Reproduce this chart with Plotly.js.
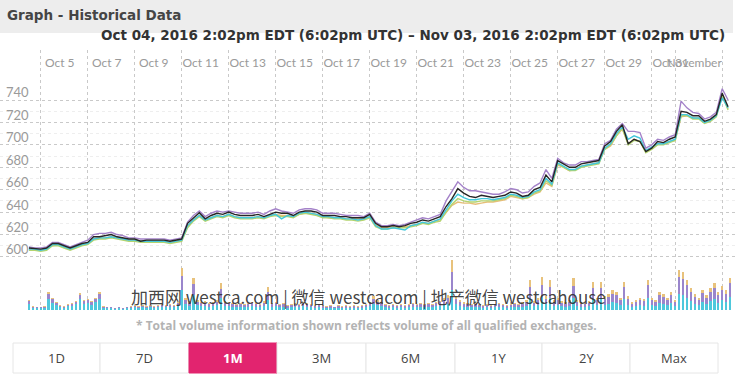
<!DOCTYPE html>
<html>
<head>
<meta charset="utf-8">
<script src="https://cdn.plot.ly/plotly-3.0.1.min.js"></script>
<style>
html,body{margin:0;padding:0;background:#fff;}
#chart{width:737px;height:379px;}
</style>
</head>
<body>
<div id="chart"></div>
<script>
// ---------- DATA ----------
const priceStartUTC = [2016, 9, 4, 12];   // Oct 4 2016 12:00, 6-hour samples
const priceStepHours = 6;
const volStartUTC = [2016, 9, 4, 12];     // 4-hour volume samples
const volStepHours = 4;

const seriesNames = ["Exchange A", "Exchange B", "Exchange C", "Exchange D", "Exchange E"];

const priceTan = [607,606,606,607,610,611,609,607,609,611,
612,616,617,617,618,617,616,615,615,614,
614,614,614,614,613,614,615,627,633,637,
633,635,637,636,638,636,635,635,635,636,
635,637,638,637,637,636,638,639,639,638,
636,635,635,635,634,634,634,634,636,629,
626,626,627,626,627,628,629,630,630,632,
633,640,646,649,648,648,647,648,649,649,
650,651,654,653,652,653,656,658,666,663,
682,680,677,678,681,682,683,684,696,699,
708,714,701,705,703,694,697,701,701,703,
704,725,726,724,724,720,722,726,745,732];

const priceGreen = [606,606,605,606,610,610,608,606,608,610,
611,615,616,616,617,616,615,614,614,613,
613,613,613,613,612,613,614,626,632,636,
632,634,636,635,637,635,634,634,634,635,
634,636,637,636,636,635,638,639,638,637,
635,635,634,634,633,633,632,633,635,627,
625,625,626,626,626,627,628,630,629,631,
632,640,647,652,650,649,649,650,650,650,
651,652,655,654,652,653,657,659,668,664,
683,680,677,677,680,681,682,683,696,700,
708,715,700,704,703,693,696,700,700,702,
704,726,726,723,723,719,721,725,744,731];

const priceCyan = [607,607,606,607,611,611,609,607,609,611,
612,616,617,617,618,617,616,615,615,614,
614,614,614,614,613,614,615,628,633,637,
633,635,637,636,638,636,635,635,635,636,
635,637,638,634,637,636,639,640,639,638,
636,636,635,635,634,634,633,634,636,628,
625,625,626,625,624,628,629,631,630,632,
634,642,650,656,653,651,651,652,652,651,
652,653,656,655,653,654,658,660,670,665,
684,681,678,678,681,682,683,684,697,701,
710,716,705,708,706,695,698,701,701,703,
705,727,727,724,724,720,722,726,742,733];

const pricePurple = [609,608,608,609,613,613,611,609,611,613,
615,620,621,621,622,620,619,617,617,616,
616,616,616,616,615,616,617,631,637,641,
636,639,641,640,641,640,639,639,639,640,
638,641,643,641,640,639,642,643,643,642,
639,639,639,638,637,637,637,636,639,631,
628,628,629,628,629,631,633,635,634,636,
638,650,658,667,662,659,659,658,657,656,
656,658,661,660,657,658,663,666,678,670,
688,684,682,682,685,685,686,687,701,704,
714,719,712,712,711,697,700,705,704,707,
709,739,733,729,728,723,725,729,750,740];

const priceBlack = [608,607.5,607,608,612,612,610,608,610,612,
613,618,618,619,620,618,617,616,616,614,
615,615,615,615,614,615,616,630,635,639.5,
634,637,639,638,640,638,637,637,637,638,
636,638,640,639,639,637,640,641,641,640,
637,637,637,636,636,635,635,635,638,630,
627,627,628,627,628,630,631,633,632,634,
636,645,652,661,657,654,653,655,654,653,
654,655,658,657,654,655,660,662,673,667,
686,683,680,680,683,684,685,686,699,703,
712,718,701,705,703,694,697,703,702,705,
707,730,729,726,726,721,723,727,746,734];

const volCyan = [6,2,2,2,2,11,7,5,3,2,
4,4,6,11,6,7,5,8,11,2,
2,2,1,2,1,2,2,3,2,3,
2,3,2,3,3,3,3,3,4,20,
6,4,15,5,4,4,3,4,5,12,
4,4,3,3,3,3,3,4,3,3,
4,10,3,4,3,3,2,3,3,3,
4,3,3,2,3,2,2,2,2,2,
2,2,2,2,2,2,3,4,6,5,
4,3,2,3,2,3,2,3,3,3,
3,3,3,3,4,4,5,6,20,6,
4,3,3,3,3,3,2,3,2,3,
3,3,2,3,3,3,3,4,12,4,
5,13,6,12,4,5,4,3,4,12,
4,3,3,4,11,5,11,5,6,8,
7,5,11,5,3,4,5,4,12,5,
4,7,6,5,7,4,16,15,12,9,
6,5,8,6,9,11,7,10,8,13];

const volPurple = [3,1,1,1,1,5,4,2,1,1,
1,2,2,4,3,3,3,3,5,1,
1,1,1,1,1,1,1,1,1,1,
1,1,1,1,2,1,2,1,3,14,
4,3,11,3,3,3,3,3,3,9,
3,3,3,2,3,2,3,3,3,2,
3,8,3,3,2,3,2,2,3,2,
3,3,2,2,2,2,1,2,1,2,
1,2,1,2,1,2,2,3,5,3,
3,2,2,2,2,2,2,2,3,2,
3,2,3,2,3,4,5,6,18,5,
4,3,3,2,3,2,2,2,2,2,
3,2,2,2,3,2,3,4,11,3,
5,12,5,11,4,5,3,3,4,12,
4,3,3,3,11,5,11,6,7,8,
8,5,12,6,3,4,5,5,13,5,
4,8,7,5,8,4,17,16,13,9,
7,5,9,6,9,11,8,10,8,14];

const volTan = [1,1,0,0,1,2,1,1,1,1,
1,1,1,2,1,1,1,1,2,1,
0,0,0,0,0,0,1,1,1,1,
1,1,1,1,1,1,1,1,1,8,
2,2,6,2,1,2,1,1,2,6,
2,1,1,1,1,1,1,1,1,1,
2,5,1,1,1,1,1,1,1,1,
1,1,1,1,1,1,1,1,0,1,
1,1,1,1,1,1,1,1,3,2,
1,1,1,1,1,1,1,1,1,1,
1,1,1,1,1,1,2,3,12,3,
2,2,1,1,1,1,1,1,1,1,
1,1,1,1,1,1,2,2,7,2,
2,8,3,7,2,2,2,2,2,8,
2,2,1,2,6,2,6,3,3,4,
3,2,5,3,2,2,2,2,5,2,
2,3,3,2,3,2,7,7,5,4,
3,2,3,3,4,5,3,4,4,5];

const yTickVals = [600,620,640,660,680,700,720,740];
const yTickText = ["600","620","640","660","680","700","720","740"];
const yMinorVals = [610,630,650,670,690,710,730];

const xTickDates = ["2016-10-05","2016-10-07","2016-10-09","2016-10-11","2016-10-13","2016-10-15",
  "2016-10-17","2016-10-19","2016-10-21","2016-10-23","2016-10-25","2016-10-27","2016-10-29",
  "2016-10-31","2016-11-01","2016-11-03"];
const xTickText = ["Oct 5","Oct 7","Oct 9","Oct 11","Oct 13","Oct 15","Oct 17","Oct 19","Oct 21",
  "Oct 23","Oct 25","Oct 27","Oct 29","Oct 31","November","Nov 3"];

const headerTitle = "Graph - Historical Data";
const rangeText = "Oct 04, 2016 2:02pm EDT (6:02pm UTC) – Nov 03, 2016 2:02pm EDT (6:02pm UTC)";
const footnote = "* Total volume information shown reflects volume of all qualified exchanges.";
const watermark = "加西网 westca.com | 微信 westcacom | 地产微信 westcahouse";
const buttonLabels = ["1D","7D","1M","3M","6M","1Y","2Y","Max"];
const activeButton = "1M";

// ---------- BUILD ----------
function timeSeries(start, stepH, n) {
  const t0 = Date.UTC(start[0], start[1], start[2], start[3]);
  const out = [];
  for (let i = 0; i < n; i++) out.push(t0 + i * stepH * 3600000);
  return out;
}
const px = timeSeries(priceStartUTC, priceStepHours, priceBlack.length);
const vx = timeSeries(volStartUTC, volStepHours, volCyan.length);

const W = 737, H = 379, M = {l: 0, r: 0, t: 50, b: 69};
const plotH = H - M.t - M.b;
const fx = p => (p - M.l) / (W - M.l - M.r);
const fy = p => 1 - (p - M.t) / plotH;

const FONT = "Lato, 'Open Sans', sans-serif";
const HFONT = "'Open Sans', Lato, sans-serif";
const WFONT = "'DejaVu Sans', 'Open Sans', sans-serif";

const lineDefs = [
  {y: priceTan, c: "#e6be78"},
  {y: priceGreen, c: "#b4d46e"},
  {y: priceCyan, c: "#43c7da"},
  {y: pricePurple, c: "#a482c9"},
  {y: priceBlack, c: "#262626"}
];
const traces = lineDefs.map((d, i) => ({
  type: "scatter", mode: "lines", x: px, y: d.y, name: seriesNames[i],
  line: {color: d.c, width: 1.4}, xaxis: "x", yaxis: "y", hoverinfo: "skip"
}));
const barW = volStepHours * 3600000 * 0.6;
[[volCyan, "#4ec8dc"], [volPurple, "#9a86cc"], [volTan, "#e8c27c"]].forEach(([v, c]) => {
  traces.push({type: "bar", x: vx, y: v, yaxis: "y2", width: barW,
    marker: {color: c, line: {width: 0}}, hoverinfo: "skip"});
});

const shapes = [
  {type: "rect", xref: "paper", yref: "paper", x0: fx(0), x1: fx(733), y0: fy(0), y1: fy(33),
   fillcolor: "#ededed", line: {width: 0}, layer: "below"}
];
const annotations = [
  {xref: "paper", yref: "paper", x: fx(5), y: fy(15), xanchor: "left", yanchor: "middle",
   text: "<b>" + headerTitle + "</b>", showarrow: false, font: {family: WFONT, size: 13.5, color: "#454545"}},
  {xref: "paper", yref: "paper", x: fx(727), y: fy(35), xanchor: "right", yanchor: "middle",
   text: "<b>" + rangeText + "</b>", showarrow: false, font: {family: WFONT, size: 13.5, color: "#333"}},
  {xref: "paper", yref: "paper", x: fx(366), y: fy(325), xanchor: "center", yanchor: "middle",
   text: "<b>" + footnote + "</b>", showarrow: false, font: {family: HFONT, size: 12, color: "#b3b3b3"}},
  {xref: "paper", yref: "paper", x: fx(368), y: fy(296), xanchor: "center", yanchor: "middle",
   text: watermark, showarrow: false, font: {family: "'Noto Sans CJK SC', sans-serif", size: 17, color: "rgba(45,45,45,0.9)"}}
];
const bx = [13,100,189,277,366,455,542,630,718];
buttonLabels.forEach((lab, i) => {
  const active = lab === activeButton;
  shapes.push({type: "rect", xref: "paper", yref: "paper", x0: fx(bx[i]), x1: fx(bx[i+1]),
    y0: fy(343), y1: fy(373), fillcolor: active ? "#e2246f" : "#ffffff",
    line: {color: active ? "#e2246f" : "#e6e6e6", width: 1}});
  annotations.push({xref: "paper", yref: "paper", x: fx((bx[i] + bx[i+1]) / 2), y: fy(358),
    xanchor: "center", yanchor: "middle", text: active ? "<b>" + lab + "</b>" : lab, showarrow: false,
    font: {family: HFONT, size: 13, color: active ? "#ffffff" : "#444"}});
});

const layout = {
  width: W, height: H, margin: M, paper_bgcolor: "#fff", plot_bgcolor: "#fff",
  showlegend: false, hovermode: false, barmode: "stack", bargap: 0,
  font: {family: FONT},
  xaxis: {type: "date", side: "top", range: ["2016-10-03 06:26", "2016-11-03 15:07"],
    tickvals: xTickDates, ticktext: xTickText, tickangle: 0, ticks: "",
    ticklabelposition: "inside", ticklabelshift: 19, ticklabelstandoff: 6,
    tickfont: {family: FONT, size: 12, color: "#9a9a9a"},
    showgrid: true, gridcolor: "#c9c9c9", griddash: "dot", gridwidth: 1,
    showline: false, zeroline: false, fixedrange: true},
  yaxis: {range: [552.7, 784.6], tickvals: yTickVals, ticktext: yTickText, ticks: "",
    ticklabelposition: "inside top", ticklabelstandoff: 3, ticklabelshift: 2,
    tickfont: {family: FONT, size: 13, color: "#9a9a9a"},
    showgrid: true, gridcolor: "#c9c9c9", griddash: "dot", gridwidth: 1,
    minor: {tickvals: yMinorVals, showgrid: true, gridcolor: "#eeeeee", gridwidth: 1, ticks: ""},
    showline: false, zeroline: false, fixedrange: true},
  yaxis2: {overlaying: "y", range: [0, plotH], visible: false, showgrid: false, zeroline: false, fixedrange: true},
  shapes: shapes, annotations: annotations
};

Plotly.newPlot("chart", traces, layout, {staticPlot: true, displayModeBar: false});
</script>
</body>
</html>
